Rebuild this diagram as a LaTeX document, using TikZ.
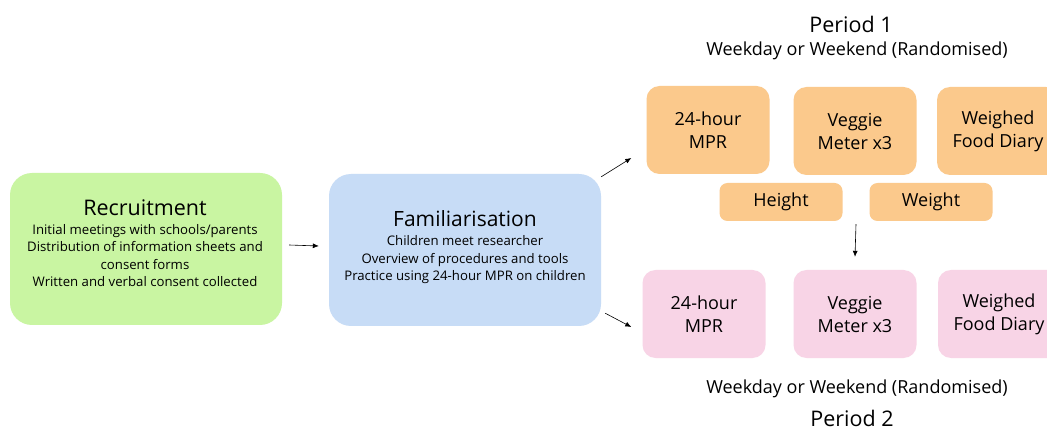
\documentclass[tikz,border=0pt]{standalone}
\usepackage{fontspec}
\setmainfont{Open Sans}
\usepackage{tikz}
\usetikzlibrary{positioning,arrows.meta,calc}
\definecolor{RecGreen}{HTML}{C9F5A2}
\definecolor{FamBlue}{HTML}{C7DCF6}
\definecolor{PerOrange}{HTML}{FBC98C}
\definecolor{PerPink}{HTML}{F8D4E6}

\begin{document}
\begin{tikzpicture}[x=1pt,y=-1pt,
    every node/.style={inner sep=0pt,align=center,text=black},
    bigbox/.style={minimum width=272pt,minimum height=152pt,rounded corners=22pt},
    title/.style={font=\fontsize{21.5}{24}\selectfont},
    body/.style={font=\fontsize{13.2}{17.5}\selectfont},
    mbox/.style={fill=PerOrange,minimum width=123pt,minimum height=88pt,rounded corners=13pt,font=\fontsize{18}{23}\selectfont},
    sbox/.style={fill=PerOrange,minimum width=123pt,minimum height=38pt,rounded corners=8pt,font=\fontsize{18}{22}\selectfont},
    arr/.style={-{Latex[length=6pt,width=5pt]},line width=0.6pt}]
  \useasboundingbox (0,0) rectangle (1047,430);
  \clip (0,0) rectangle (1047,430);
  \fill[white] (0,0) rectangle (1047,430);
  % left part
  \node[bigbox,fill=RecGreen] (rec) at (146,249) {};
  \node[title] (rect) at (145,208) {Recruitment};
  \node[body,below=8pt of rect] (recb) {Initial meetings with schools/parents\\
    Distribution of information sheets and\\ consent forms\\
    Written and verbal consent collected};
  \node[bigbox,fill=FamBlue] (fam) at (465,250) {};
  \node[title,font=\fontsize{21}{24}\selectfont] (famt) at (465,219) {Familiarisation};
  \node[body,below=8pt of famt] (famb) {Children meet researcher\\
    Overview of procedures and tools\\
    Practice using 24-hour MPR on children};
  % period 1
  \node[title] (p1) at (851,24) {Period 1};
  \node[font=\fontsize{18}{22}\selectfont] (p1d) at (857,51) {Weekday or Weekend (Randomised)};
  \node[mbox] (mpra) at (708,130) {24-hour\\MPR};
  \node[mbox] (vega) at (855,131) {Veggie\\Meter x3};
  \node[mbox,minimum width=122pt] (wfda) at (998,131) {Weighed\\Food Diary};
  \node[sbox] (ht) at (781,202) {Height};
  \node[sbox] (wt) at (931,202) {Weight};
  % period 2
  \node[mbox,fill=PerPink] (mprb) at (704,314) {24-hour\\MPR};
  \node[mbox,fill=PerPink] (vegb) at (855,314) {Veggie\\Meter x3};
  \node[mbox,fill=PerPink,minimum width=122pt] (wfdb) at (999,314) {Weighed\\Food Diary};
  \node[font=\fontsize{18}{22}\selectfont] (p2d) at (857,389) {Weekday or Weekend (Randomised)};
  \node[title] (p2) at (852,418) {Period 2};
  % arrows
  \draw[arr] ($(rec.east)+(7,-4)$) -- ($(fam.west)+(-10,-4)$);
  \draw[arr] ($(fam.north east)+(0,3)$) -- ($(mpra.west)+(-15,28)$);
  \draw[arr] ($(fam.south east)+(4,-13)$) -- ($(mprb.west)+(-11,13)$);
  \draw[arr] ($(ht.south east)!0.5!(wt.south west)+(0,3)$) -- ($(vegb.north)+(0,-13)$);
\end{tikzpicture}
\end{document}
